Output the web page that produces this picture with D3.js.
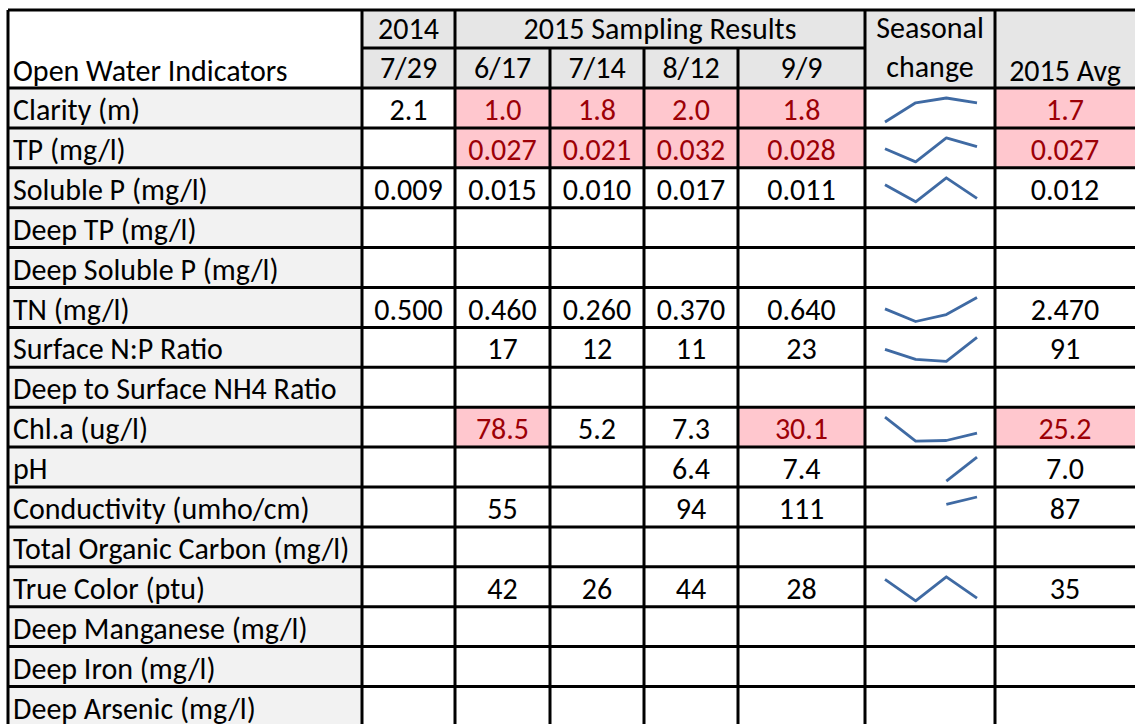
<!DOCTYPE html>
<html>
<head>
<meta charset="utf-8">
<script src="https://cdn.jsdelivr.net/npm/d3@7"></script>
<style>
  body { margin: 0; background: #fff; }
  svg text { font-family: Carlito, Calibri, Lato, "Open Sans", sans-serif; font-size: 30px; fill: #000; }
</style>
</head>
<body>
<svg id="chart" width="1135" height="724"></svg>
<script>
// table data
var indicators = ["Clarity (m)", "TP (mg/l)", "Soluble P (mg/l)", "Deep TP (mg/l)",
  "Deep Soluble P (mg/l)", "TN (mg/l)", "Surface N:P Ratio", "Deep to Surface NH4 Ratio",
  "Chl.a (ug/l)", "pH", "Conductivity (umho/cm)", "Total Organic Carbon (mg/l)",
  "True Color (ptu)", "Deep Manganese (mg/l)", "Deep Iron (mg/l)", "Deep Arsenic (mg/l)"];
var dates2015 = ["6/17", "7/14", "8/12", "9/9"];
var val2014 = [2.1, null, 0.009, null, null, 0.5, null, null, null, null, null, null, null, null, null, null];
var samples2015 = [
  [1.0, 1.8, 2.0, 1.8],
  [0.027, 0.021, 0.032, 0.028],
  [0.015, 0.010, 0.017, 0.011],
  [null, null, null, null],
  [null, null, null, null],
  [0.46, 0.26, 0.37, 0.64],
  [17, 12, 11, 23],
  [null, null, null, null],
  [78.5, 5.2, 7.3, 30.1],
  [null, null, 6.4, 7.4],
  [55, null, 94, 111],
  [null, null, null, null],
  [42, 26, 44, 28],
  [null, null, null, null],
  [null, null, null, null],
  [null, null, null, null]
];
var avg2015 = [1.7, 0.027, 0.012, null, null, 2.47, 91, null, 25.2, 7.0, 87, null, 35, null, null, null];
var decimals = [1, 3, 3, 0, 0, 3, 0, 0, 1, 1, 0, 0, 0, 0, 0, 0];
// flagged cells: column keys per row (d0..d3 = 2015 dates, avg)
var flagged = [["d0","d1","d2","d3","avg"], ["d0","d1","d2","d3","avg"], [], [], [], [], [], [],
  ["d0","d3","avg"], [], [], [], [], [], [], []];

var svg = d3.select("#chart");
var colEdges = [8, 362, 455, 550, 644, 738, 865, 995, 1140];
var headTop = 10, headMid = 48, bodyTop = 88, rowH = 39.9;

var y = d3.scaleBand().domain(d3.range(indicators.length))
  .range([bodyTop, bodyTop + rowH * indicators.length]);

// header background
svg.append("rect").attr("x", colEdges[1]).attr("y", headTop)
  .attr("width", colEdges[8] - colEdges[1]).attr("height", bodyTop - headTop).attr("fill", "#e6e6e6");

// body cells
var cols = ["label", "y2014", "d0", "d1", "d2", "d3", "spark", "avg"];
var rows = svg.selectAll("g.row").data(indicators).enter().append("g").attr("class", "row");

rows.each(function(name, i) {
  var g = d3.select(this);
  var top = y(i);
  cols.forEach(function(c, j) {
    var fill = "#fff";
    if (c == "label") fill = "#f2f2f2";
    if (flagged[i].indexOf(c) >= 0) fill = "#ffc7ce";
    g.append("rect").attr("x", colEdges[j]).attr("y", top)
      .attr("width", colEdges[j + 1] - colEdges[j]).attr("height", rowH).attr("fill", fill);

    var v = null;
    if (c == "y2014") v = val2014[i];
    else if (c == "avg") v = avg2015[i];
    else if (c[0] == "d") v = samples2015[i][+c[1]];
    if (c == "label") {
      g.append("text").attr("x", colEdges[0] + 5).attr("y", top + 32).text(name);
    } else if (v != null) {
      g.append("text").attr("x", (colEdges[j] + Math.min(colEdges[j + 1], 1135)) / 2).attr("y", top + 32)
        .attr("text-anchor", "middle")
        .style("fill", flagged[i].indexOf(c) >= 0 ? "#9c0006" : "#000")
        .text(v.toFixed(decimals[i]));
    }
  });

  // sparkline (gaps left where a date has no sample)
  var vals = samples2015[i];
  var present = vals.filter(function(v) { return v != null; });
  if (present.length > 1) {
    var sx = d3.scalePoint().domain(dates2015).range([885, 977]);
    var sy = d3.scaleLinear().domain(d3.extent(present)).range([top + 34, top + 10]);
    var line = d3.line()
      .defined(function(d) { return d != null; })
      .x(function(d, k) { return sx(dates2015[k]); })
      .y(function(d) { return sy(d); });
    g.append("path").attr("d", line(vals)).attr("fill", "none")
      .attr("stroke", "#3f6aa3").attr("stroke-width", 2.8)
      .attr("stroke-linejoin", "round").attr("stroke-linecap", "butt");
  }
});

// header text
function headText(x, yy, t) {
  svg.append("text").attr("x", x).attr("y", yy).attr("text-anchor", "middle").text(t);
}
svg.append("text").attr("x", colEdges[0] + 5).attr("y", 81).text("Open Water Indicators");
headText((colEdges[1] + colEdges[2]) / 2, 39, "2014");
headText((colEdges[1] + colEdges[2]) / 2, 78, "7/29");
headText((colEdges[2] + colEdges[6]) / 2, 39, "2015 Sampling Results");
dates2015.forEach(function(d, k) {
  headText((colEdges[2 + k] + colEdges[3 + k]) / 2, 78, d);
});
headText((colEdges[6] + colEdges[7]) / 2, 38, "Seasonal");
headText((colEdges[6] + colEdges[7]) / 2, 77, "change");
headText((colEdges[7] + 1135) / 2, 81, "2015 Avg");

// grid lines
var grid = svg.append("g").attr("stroke", "#000").attr("stroke-width", 3);
var bottom = y.range()[1];
grid.append("line").attr("x1", colEdges[0]).attr("x2", 1135).attr("y1", headTop).attr("y2", headTop);
grid.append("line").attr("x1", colEdges[1]).attr("x2", colEdges[6]).attr("y1", headMid).attr("y2", headMid);
d3.range(indicators.length + 1).forEach(function(i) {
  var yy = bodyTop + i * rowH;
  grid.append("line").attr("x1", colEdges[0]).attr("x2", 1135).attr("y1", yy).attr("y2", yy);
});
colEdges.slice(0, 8).forEach(function(x, j) {
  var y1 = (j >= 3 && j <= 5) ? headMid : headTop;
  grid.append("line").attr("x1", x).attr("x2", x).attr("y1", y1).attr("y2", bottom);
});
</script>
</body>
</html>
